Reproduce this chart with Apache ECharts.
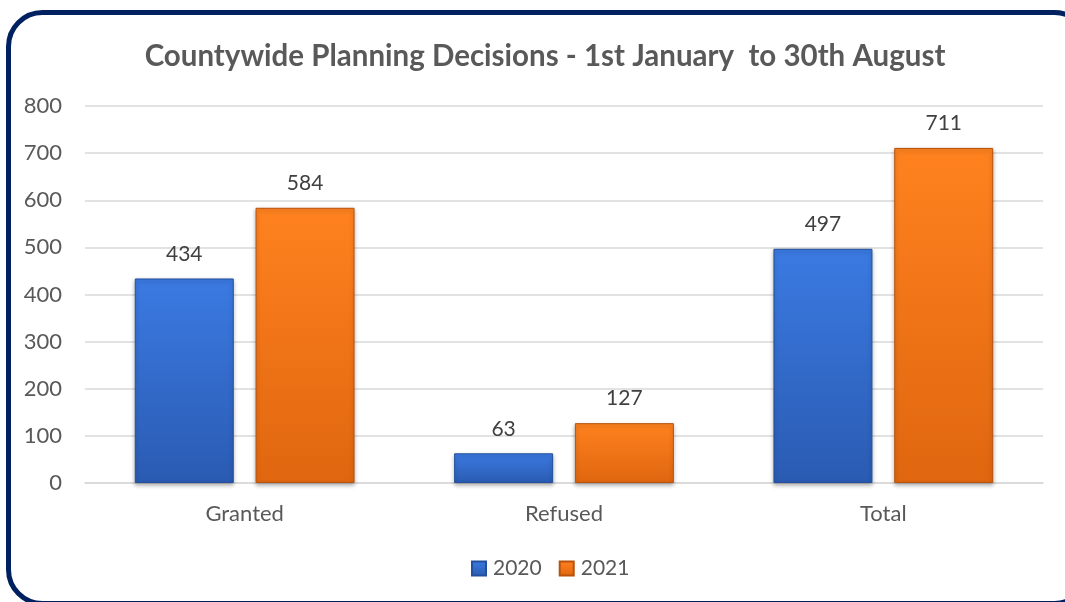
<!DOCTYPE html>
<html>
<head>
<meta charset="utf-8">
<script src="https://cdn.jsdelivr.net/npm/echarts@6/dist/echarts.min.js"></script>
<style>
html,body{margin:0;padding:0;background:#fff;overflow:hidden;}
#chart{width:1065px;height:602px;}
</style>
</head>
<body>
<div id="chart"></div>
<script>
var categories = ["Granted", "Refused", "Total"];
var seriesNames = ["2020", "2021"];
var values2020 = [434, 63, 497];
var values2021 = [584, 127, 711];
var yTicks = [0, 100, 200, 300, 400, 500, 600, 700, 800];

var FONT = "Lato, 'Liberation Sans', sans-serif";
function grad(top, bottom) {
  return new echarts.graphic.LinearGradient(0, 0, 0, 1, [
    {offset: 0, color: top}, {offset: 1, color: bottom}
  ]);
}
var chart = echarts.init(document.getElementById('chart'));
var option = {
  backgroundColor: '#ffffff',
  animation: false,
  graphic: [{
    type: 'rect',
    shape: {x: 8.5, y: 12.5, width: 1080, height: 591, r: 34},
    style: {fill: 'none', stroke: '#002060', lineWidth: 5},
    z: 100
  }],
  title: {
    text: 'Countywide Planning Decisions - 1st January  to 30th August',
    left: 540, top: 36, textAlign: 'center',
    textStyle: {fontFamily: FONT, fontWeight: 'bold', fontSize: 29.5, color: '#595959'}
  },
  legend: {
    data: seriesNames,
    left: 466, top: 553,
    icon: 'rect',
    itemWidth: 14, itemHeight: 14, itemGap: 17,
    textStyle: {fontFamily: FONT, fontSize: 21, color: '#595959', padding: [0, 0, 0, 2]}
  },
  grid: {left: 85, right: 22, top: 106, bottom: 119},
  xAxis: {
    type: 'category',
    data: categories,
    axisLine: {lineStyle: {color: '#d9d9d9', width: 1.5}},
    axisTick: {show: false},
    axisLabel: {fontFamily: FONT, fontSize: 22, color: '#595959', margin: 20}
  },
  yAxis: {
    type: 'value',
    min: yTicks[0], max: yTicks[yTicks.length - 1], interval: 100,
    axisLine: {show: false},
    axisTick: {show: false},
    splitLine: {lineStyle: {color: '#d9d9d9', width: 1.5}},
    axisLabel: {fontFamily: FONT, fontSize: 22, color: '#595959', margin: 23}
  },
  series: [{
    name: seriesNames[0], type: 'bar', data: values2020,
    barWidth: '31%', barGap: '22%',
    itemStyle: {color: grad('#3b7ae2', '#2a5bb2'), borderColor: '#23509c', borderWidth: 1,
      shadowBlur: 4, shadowColor: 'rgba(0,0,0,0.3)', shadowOffsetY: 2},
    label: {show: true, position: 'top', distance: 14, fontFamily: FONT, fontSize: 21, color: '#404040'}
  }, {
    name: seriesNames[1], type: 'bar', data: values2021,
    barWidth: '31%', barGap: '22%',
    itemStyle: {color: grad('#ff821f', '#e0660f'), borderColor: '#b8520c', borderWidth: 1,
      shadowBlur: 4, shadowColor: 'rgba(0,0,0,0.3)', shadowOffsetY: 2},
    label: {show: true, position: 'top', distance: 14, fontFamily: FONT, fontSize: 21, color: '#404040'}
  }]
};
chart.setOption(option);
</script>
</body>
</html>
